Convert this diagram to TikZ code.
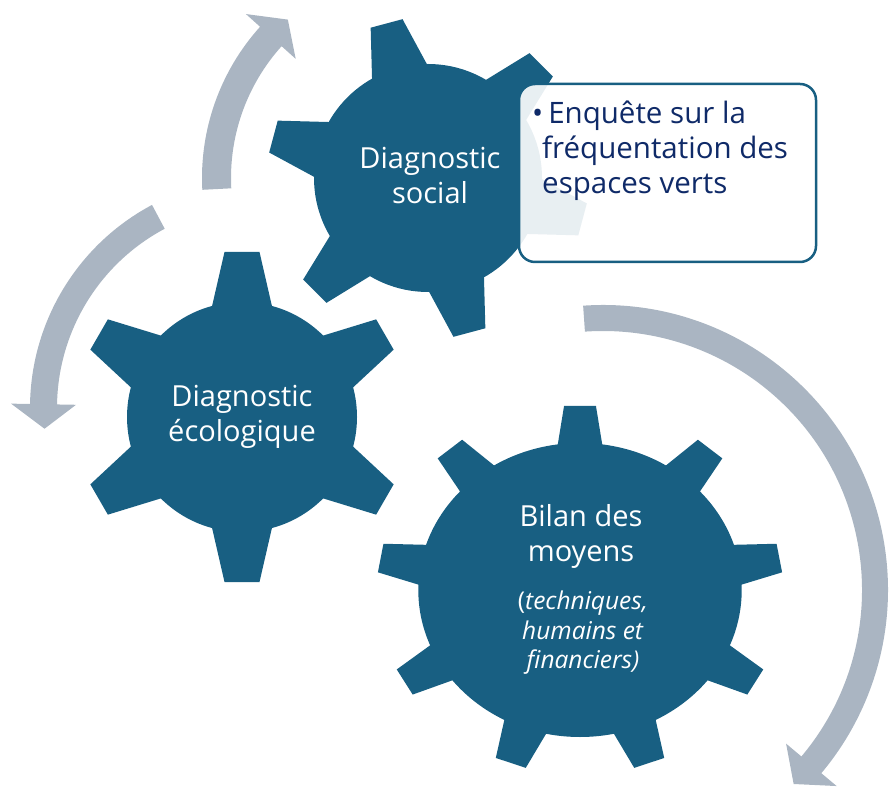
\documentclass[tikz,border=0pt]{standalone}
\usepackage{fontspec}
\setmainfont{Open Sans}
\definecolor{gearblue}{HTML}{185F82}
\definecolor{arrowgray}{HTML}{AAB5C2}
\definecolor{navytext}{HTML}{0F2A68}
\tikzset{
  gearfill/.style={fill=gearblue},
  arrowfill/.style={fill=arrowgray},
  gtext/.style={text=white, align=center, inner sep=0pt, font=\fontsize{29}{35}\selectfont},
  gsub/.style={text=white, align=center, inner sep=0pt, font=\fontsize{24.5}{29.5}\selectfont},
  infobox/.style={draw=gearblue, line width=2.5pt, rounded corners=16pt, fill=white, fill opacity=0.9, minimum width=297pt, minimum height=178pt, inner sep=0pt},
  btext/.style={text=navytext, align=left, inner sep=0pt, font=\fontsize{29.5}{35}\selectfont}
}
% #1 count, #2 phase, #3 step, #4 r, #5 R, #6 base half width, #7 tip half width
\newcommand{\gearteeth}[7]{%
  \fill[gearfill] (0,0) circle[radius=#4pt];
  \foreach \k in {1,...,#1}{%
    \pgfmathsetmacro\ang{#2+(\k-1)*#3}%
    \pgfmathsetmacro\hb{#6+(#6-#7)*12/(#5-#4)}%
    \fill[gearfill, rotate=\ang] ({#4-12}, -\hb) -- (#5, -#7) -- (#5, #7) -- ({#4-12}, \hb) -- cycle;
  }}
\begin{document}
\begin{tikzpicture}[x=1pt, y=1pt]
\useasboundingbox (0,0) rectangle (890,790);
\clip (0,0) rectangle (890,790);
\coordinate (g1) at (428,612);
\coordinate (g2) at (242,373);
\coordinate (g3) at (580,200);
\coordinate (cB) at (260,382);
\coordinate (cC) at (603,200);

% cycle arrows
\begin{scope}[shift={(g1)}]
  \fill[arrowfill] (183:226pt) arc[start angle=183, end angle=138, radius=226pt]
    -- (138:245pt) -- (131.5:211.5pt) -- (138:178pt) -- (138:197pt)
    arc[start angle=138, end angle=183, radius=197pt] -- cycle;
\end{scope}
\begin{scope}[shift={(cB)}]
  \fill[arrowfill] (118:230pt) arc[start angle=118, end angle=179, radius=230pt]
    -- (179:249pt) -- (185.5:216.5pt) -- (179:184pt) -- (179:203pt)
    arc[start angle=179, end angle=118, radius=203pt] -- cycle;
\end{scope}
\begin{scope}[shift={(cC)}]
  \fill[arrowfill] (94:285pt) arc[start angle=94, end angle=-40, radius=285pt]
    -- (-40:305pt) -- (-45.5:272pt) -- (-40:239pt) -- (-40:259pt)
    arc[start angle=-40, end angle=94, radius=259pt] -- cycle;
\end{scope}

% gears
\begin{scope}[shift={(g1)}]
  \gearteeth{6}{45}{60}{114}{160}{27.5}{16.5}
\end{scope}
\begin{scope}[shift={(g2)}]
  \gearteeth{6}{30}{60}{115}{165}{29}{17.5}
\end{scope}
\begin{scope}[shift={(g3)}, xscale=1.1]
  \gearteeth{9}{10}{40}{147}{184}{20}{14.5}
\end{scope}

% info box
\node[infobox] (box) at (667.5,617) {};
\node[btext, anchor=north west] (boxtxt) at (532,689)
  {\textbullet\hspace{5pt}Enquête sur la\\\hspace*{10pt}fréquentation des\\\hspace*{10pt}espaces verts};

% gear labels
\node[gtext] (t1) at (430,614) {Diagnostic\\social};
\node[gtext] (t2) at (242,373) {Diagnostic\\écologique};
\node[gtext] (t3) at (581,254) {Bilan des\\moyens};
\node[gsub] (t3b) at (583,157) {(\textit{techniques,}\\\textit{humains et}\\\textit{financiers)}};
\end{tikzpicture}
\end{document}
